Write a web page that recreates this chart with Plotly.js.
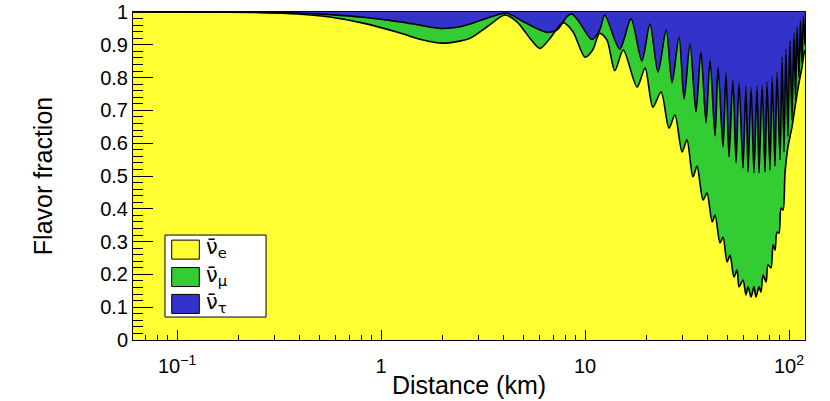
<!DOCTYPE html>
<html>
<head>
<meta charset="utf-8">
<script src="https://cdn.plot.ly/plotly-3.0.1.min.js"></script>
<style>
  html, body { margin: 0; padding: 0; background: #ffffff; }
  #chart { width: 830px; height: 401px; }
</style>
</head>
<body>
<div id="chart"></div>
<script>
// ---- data (distance in km, cumulative flavor fraction) ----
// boundary between nu_e (yellow) and nu_mu (green): P(ee)
const distLower = [0.0608, 0.130, 0.264, 0.388, 0.562, 0.816, 1.24, 1.55, 2.01, 2.73, 3.31, 4.05, 4.64, 5.37, 6.01, 6.74, 7.80, 8.73, 10.0, 10.9, 11.8, 12.8, 14.0, 15.4, 18.0, 19.7, 21.5, 23.6, 25.8, 27.6, 29.9, 31.6, 33.8, 35.4, 37.9, 39.6, 42.0, 43.4, 45.9, 47.5, 49.7, 51.4, 53.7, 55.6, 56.9, 59.5, 61.5, 63.0, 65.2, 67.3, 68.9, 71.3, 72.9, 74.6, 77.2, 78.9, 81.6, 83.5, 85.4, 87.3, 89.3, 91.4, 93.5, 95.6, 98.8, 103.4, 107.0, 111.9, 115.8, 118.5, 119.8];
const fracLower = [1.000, 1.000, 0.998, 0.994, 0.985, 0.966, 0.936, 0.917, 0.905, 0.920, 0.955, 0.991, 0.970, 0.920, 0.889, 0.920, 0.967, 0.940, 0.862, 0.884, 0.935, 0.915, 0.821, 0.884, 0.771, 0.829, 0.710, 0.756, 0.646, 0.686, 0.573, 0.610, 0.497, 0.530, 0.427, 0.448, 0.360, 0.381, 0.296, 0.314, 0.238, 0.259, 0.192, 0.213, 0.162, 0.183, 0.137, 0.162, 0.131, 0.162, 0.131, 0.162, 0.146, 0.198, 0.177, 0.229, 0.220, 0.290, 0.274, 0.329, 0.326, 0.402, 0.396, 0.509, 0.588, 0.649, 0.710, 0.784, 0.832, 0.875, 0.884];

// boundary between nu_mu (green) and nu_tau (blue): P(ee)+P(emu)
const distUpper = [0.0608, 0.264, 0.388, 0.562, 0.816, 1.24, 1.55, 1.95, 2.44, 3.06, 3.70, 4.15, 4.80, 5.56, 6.51, 7.29, 8.16, 8.63, 9.45, 10.8, 11.8, 12.5, 14.8, 16.8, 19.0, 20.8, 22.8, 25.0, 26.7, 28.9, 30.6, 32.7, 35.0, 37.0, 39.2, 41.0, 43.4, 44.9, 47.5, 49.1, 50.8, 53.1, 55.0, 56.9, 59.5, 61.5, 63.0, 65.2, 67.3, 69.7, 71.3, 73.8, 76.3, 78.0, 80.7, 82.6, 85.4, 87.3, 90.4, 92.4, 94.5, 96.6, 98.8, 101.0, 103.4, 105.8, 107.7, 109.4, 111.9, 113.8, 115.8, 117.8, 119.8];
const fracUpper = [1.000, 0.999, 0.997, 0.992, 0.984, 0.970, 0.960, 0.950, 0.955, 0.974, 0.991, 0.996, 0.976, 0.955, 0.938, 0.945, 0.986, 0.994, 0.966, 0.916, 0.945, 0.990, 0.887, 0.979, 0.851, 0.963, 0.817, 0.945, 0.784, 0.924, 0.735, 0.902, 0.695, 0.878, 0.662, 0.854, 0.622, 0.832, 0.588, 0.814, 0.558, 0.793, 0.540, 0.784, 0.524, 0.774, 0.512, 0.771, 0.509, 0.774, 0.509, 0.777, 0.512, 0.787, 0.518, 0.802, 0.530, 0.817, 0.549, 0.863, 0.573, 0.887, 0.620, 0.912, 0.670, 0.936, 0.730, 0.954, 0.800, 0.973, 0.845, 0.988, 0.900];

const flavorLabels = ['\u03BD\u0304<sub>e</sub>', '\u03BD\u0304<sub>\u03BC</sub>', '\u03BD\u0304<sub>\u03C4</sub>'];
const flavorColors = ['#ffff33', '#33cc33', '#3333cc'];
const xTickVals = [0.1, 1, 10, 100];
const xTickText = ['10<sup>\u22121</sup>', '1', '10', '10<sup>2</sup>'];
const xMinorVals = [0.07, 0.08, 0.09, 0.2, 0.3, 0.4, 0.5, 0.6, 0.7, 0.8, 0.9, 2, 3, 4, 5, 6, 7, 8, 9, 20, 30, 40, 50, 60, 70, 80, 90];
const xRange = [0.0608, 119.8];

const FONT = 'Liberation Sans, Arial, Helvetica, sans-serif';

const traces = [
  // green: from 0 up to upper boundary
  { x: distUpper, y: fracUpper, type: 'scatter', mode: 'lines', fill: 'tozeroy',
    fillcolor: flavorColors[1], line: { width: 0, shape: 'spline', smoothing: 0.8 }, hoverinfo: 'skip', showlegend: false },
  // blue: between upper boundary and 1
  { x: xRange, y: [1, 1], type: 'scatter', mode: 'lines', fill: 'tonexty',
    fillcolor: flavorColors[2], line: { width: 0 }, hoverinfo: 'skip', showlegend: false },
  // yellow: from 0 up to lower boundary
  { x: distLower, y: fracLower, type: 'scatter', mode: 'lines', fill: 'tozeroy',
    fillcolor: flavorColors[0], line: { width: 0, shape: 'spline', smoothing: 0.8 }, hoverinfo: 'skip', showlegend: false },
  // black boundary lines
  { x: distUpper, y: fracUpper, type: 'scatter', mode: 'lines',
    line: { color: '#000000', width: 1.6, shape: 'spline', smoothing: 0.8 }, hoverinfo: 'skip', showlegend: false },
  { x: distLower, y: fracLower, type: 'scatter', mode: 'lines',
    line: { color: '#000000', width: 1.6, shape: 'spline', smoothing: 0.8 }, hoverinfo: 'skip', showlegend: false }
];

// legend (ROOT-style box) in paper coordinates
const shapes = [
  { type: 'rect', xref: 'paper', yref: 'paper', x0: 0.0476, x1: 0.198, y0: 0.070, y1: 0.320,
    fillcolor: '#ffffff', line: { color: '#000000', width: 1 }, layer: 'above' }
];
const rowY = [0.2755, 0.192, 0.110];
const annotations = [];
for (let i = 0; i < 3; i++) {
  shapes.push({ type: 'rect', xref: 'paper', yref: 'paper', x0: 0.0576, x1: 0.0987,
    y0: rowY[i] - 0.029, y1: rowY[i] + 0.029,
    fillcolor: flavorColors[i], line: { color: '#000000', width: 1 }, layer: 'above' });
  annotations.push({ xref: 'paper', yref: 'paper', x: 0.105, y: rowY[i] + 0.004,
    xanchor: 'left', yanchor: 'middle', showarrow: false, text: flavorLabels[i],
    font: { family: 'DejaVu Sans, ' + FONT, size: 21, color: '#000000' } });
}

const layout = {
  width: 830, height: 401,
  margin: { l: 133, r: 25, t: 12, b: 61, pad: 0 },
  paper_bgcolor: '#ffffff',
  plot_bgcolor: '#ffffff',
  font: { family: FONT, color: '#000000' },
  showlegend: false,
  xaxis: {
    type: 'log', range: [Math.log10(xRange[0]), Math.log10(xRange[1])],
    tickmode: 'array', tickvals: xTickVals, ticktext: xTickText,
    ticks: 'inside', ticklen: 10, tickwidth: 1, tickcolor: '#000000',
    minor: { tickmode: 'array', tickvals: xMinorVals, ticks: 'inside', ticklen: 5, tickwidth: 1, tickcolor: '#000000', showgrid: false },
    showgrid: false, zeroline: false, showline: true, linecolor: '#000000', linewidth: 1, mirror: true,
    tickfont: { family: FONT, size: 20 }, ticklabelstandoff: 8,
    title: { text: 'Distance (km)', font: { family: FONT, size: 25 }, standoff: 0 },
    automargin: false, layer: 'above traces'
  },
  yaxis: {
    range: [0, 1], tickmode: 'linear', tick0: 0, dtick: 0.1,
    ticks: 'inside', ticklen: 20, tickwidth: 1, tickcolor: '#000000',
    minor: { dtick: 0.02, ticks: 'inside', ticklen: 10, tickwidth: 1, tickcolor: '#000000', showgrid: false },
    showgrid: false, zeroline: false, showline: true, linecolor: '#000000', linewidth: 1, mirror: true,
    tickfont: { family: FONT, size: 20 },
    title: { text: 'Flavor fraction', font: { family: FONT, size: 25 }, standoff: 40 },
    automargin: false, layer: 'above traces'
  },
  shapes: shapes,
  annotations: annotations
};

Plotly.newPlot('chart', traces, layout, { staticPlot: true, displayModeBar: false });
</script>
</body>
</html>
